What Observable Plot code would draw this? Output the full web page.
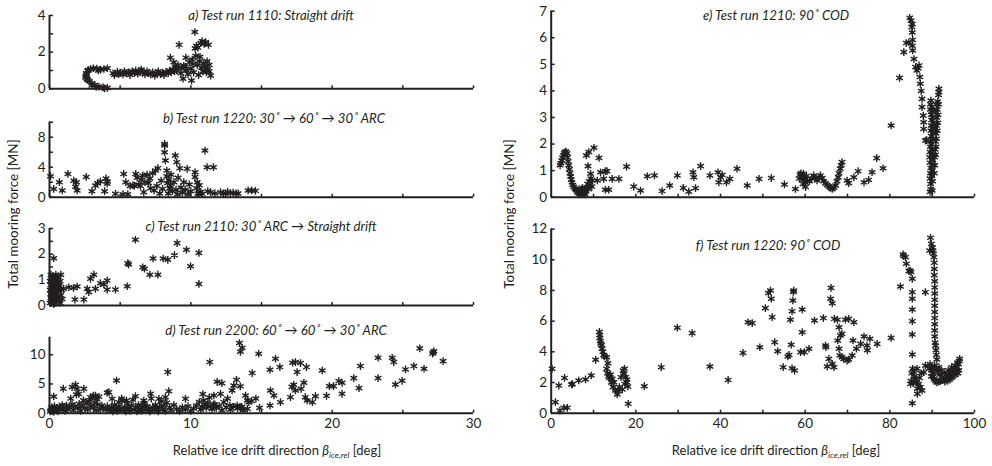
<!DOCTYPE html>
<html><head><meta charset="utf-8">
<script src="https://cdn.jsdelivr.net/npm/d3@7"></script>
<script src="https://cdn.jsdelivr.net/npm/@observablehq/plot@0.6"></script>
<style>
body{margin:0;background:#fff;}
#fig{position:relative;width:992px;height:466px;overflow:hidden;font-family:Lato,"Open Sans",sans-serif;color:#231f20;}
.panel{position:absolute;}
.title{position:absolute;font-style:italic;font-size:13.2px;white-space:nowrap;transform:translate(-50%,-50%);}
.xlabel{position:absolute;font-size:13px;white-space:nowrap;transform:translate(-50%,-50%);}
.xlabel sub{font-size:8.5px;font-style:italic;vertical-align:-3px;}
.ylabel{position:absolute;font-size:13.5px;white-space:nowrap;transform:translate(-50%,-50%) rotate(-90deg);}
</style></head>
<body><div id="fig"></div>
<script>
// ---------- data: [beta_ice,rel (deg), total mooring force (MN)] ----------
const panelA = [
[4.1,0.05],[3.8,0.08],[3.5,0.12],[3.2,0.2],[3.0,0.3],[2.8,0.42],[2.65,0.55],[2.6,0.7],[2.6,0.85],[2.7,0.98],[2.9,1.08],[3.1,1.12],[3.35,1.1],[3.6,1.05],[3.85,1.08],[4.1,1.12],[2.55,0.62],[2.7,0.48],[3.0,0.18],[3.3,0.1],[3.9,0.02],[2.75,1.02],[3.45,1.0],[2.62,0.78],
[4.5,0.85],[4.6,0.75],[4.8,0.92],[4.9,0.8],[5.0,0.88],[5.2,0.78],[5.3,0.95],[5.45,0.85],[5.6,0.9],[5.7,0.75],[5.85,0.95],[6.0,0.85],[6.1,1.0],[6.25,0.82],[6.4,0.95],[6.5,1.05],[6.6,0.88],[6.75,0.8],[6.9,0.95],[7.0,0.85],[7.15,0.78],[7.3,0.9],[7.45,0.72],[7.6,0.85],[7.7,0.95],[7.85,0.8],[8.0,0.88],[8.1,0.75],[8.25,0.92],[8.4,0.85],[8.5,1.0],[8.6,0.9],[8.75,1.05],[8.85,0.95],[8.95,1.15],
[8.55,1.7],[8.8,1.45],[8.9,1.2],[9.0,1.0],[9.1,1.3],[9.17,2.4],[9.3,0.85],[9.35,1.1],[9.45,0.55],[9.5,1.25],[9.65,1.7],[9.7,1.0],[9.8,0.8],[9.9,1.45],[10.0,1.1],[10.05,0.45],[10.1,1.6],[10.2,0.9],[10.28,3.1],[10.3,2.2],[10.4,2.35],[10.45,1.3],[10.5,2.25],[10.55,0.75],[10.6,1.5],[10.7,2.5],[10.75,1.15],[10.8,2.6],[10.85,0.95],[10.9,1.4],[10.95,2.45],[11.0,1.2],[11.05,2.55],[11.1,0.9],[11.15,1.5],[11.2,1.05],[11.25,2.4],[11.3,1.3],[11.4,0.72],[11.3,0.95],[10.35,1.8],[10.65,1.75],[9.6,1.2],[10.15,1.35]
];
const panelB = [
[0.07,2.8],[0.3,1.1],[0.7,2.0],[0.9,0.9],[1.3,3.1],[1.72,2.2],[1.9,2.0],[1.96,0.9],[1.85,1.4],[2.6,2.7],[3.0,0.8],[3.25,1.55],[3.4,1.87],[3.6,2.1],[3.9,0.8],[4.0,2.5],[4.08,1.8],[4.1,2.1],[4.67,0.45],[5.2,0.4],[5.25,3.1],[5.4,2.0],[5.54,0.4],[5.7,1.5],[5.9,1.6],[6.0,1.5],[6.1,3.1],[6.2,2.6],[6.3,1.7],[6.43,1.5],[6.5,2.3],[6.6,2.9],[6.67,0.67],[6.75,2.0],[6.9,3.0],[7.0,1.9],[7.1,2.5],[7.15,1.2],[7.3,3.2],[7.4,0.9],[7.5,3.55],[7.6,1.5],[7.67,3.87],[7.8,0.5],[7.9,2.2],[8.0,1.1],[8.14,7.1],[8.15,6.9],[8.14,6.0],[8.2,4.9],[8.3,3.55],[8.3,2.8],[8.35,1.9],[8.4,0.5],[8.45,2.3],[8.5,1.2],[8.56,1.55],[8.6,3.0],[8.7,0.8],[8.8,2.0],[8.9,5.56],[8.95,1.0],[9.0,4.67],[9.05,0.4],[9.1,2.6],[9.22,3.87],[9.3,1.3],[9.4,0.6],[9.5,2.0],[9.6,1.0],[9.74,3.78],[9.8,0.4],[9.9,1.7],[10.0,0.8],[10.3,3.33],[10.3,2.7],[10.4,1.2],[10.45,2.0],[10.5,0.5],[10.57,0.44],[10.6,1.6],[10.7,0.7],[10.8,0.45],[11.0,6.22],[11.15,4.0],[11.2,0.8],[11.4,0.67],[11.6,4.0],[11.7,0.5],[12.1,0.67],[12.3,0.5],[12.45,0.53],[12.6,0.7],[12.8,0.55],[13.0,0.6],[13.2,0.5],[13.35,0.5],[14.05,0.9],[14.3,0.9],[14.57,0.85]
];
const panelC = [
[0.05,0.1],[0.1,0.3],[0.15,0.5],[0.2,0.7],[0.25,0.9],[0.3,1.1],[0.1,1.2],[0.05,0.6],[0.35,0.2],[0.4,0.45],[0.45,0.65],[0.5,0.85],[0.55,1.0],[0.6,0.3],[0.65,0.55],[0.7,0.75],[0.75,0.1],[0.8,0.4],[0.2,0.15],[0.3,0.35],[0.4,0.95],[0.5,0.2],[0.15,1.0],[0.25,0.5],[0.35,0.8],[0.45,0.3],[0.55,0.6],[0.65,0.9],[0.1,0.8],[0.2,0.4],[0.3,0.6],[0.4,0.1],[0.5,0.5],[0.6,0.7],[0.7,0.2],[0.05,0.95],[0.15,0.25],[0.25,1.15],[0.35,0.55],[0.45,1.2],[0.85,0.6],[0.9,0.25],[0.3,0.05],[0.6,1.1],[0.75,0.95],[0.2,0.95],[0.1,0.45],
[0.3,1.84],[0.8,1.2],[1.0,0.65],[1.37,0.71],[1.7,0.68],[1.96,0.74],[1.8,0.23],[2.43,0.23],[2.67,0.65],[2.78,0.52],[2.9,1.04],[3.14,1.2],[3.25,0.65],[3.6,0.87],[3.85,0.82],[4.08,0.97],[4.08,0.62],[4.67,0.62],[5.5,0.75],[5.54,1.65],[5.6,1.6],[6.08,2.56],[6.6,1.49],[6.72,1.43],[7.1,1.2],[7.33,1.83],[7.67,1.2],[8.04,1.83],[8.37,1.78],[8.84,1.96],[9.03,2.43],[9.69,2.17],[9.98,1.53],[10.57,2.05],[10.57,0.84]
];
const panelD = [
[0.05,0.3],[0.1,0.6],[0.15,1.0],[0.2,0.4],[0.25,0.8],[0.3,0.2],[0.35,1.2],[0.4,0.5],[0.5,0.9],[0.6,0.3],[0.7,1.1],[0.8,0.6],[0.9,1.4],[1.0,0.9],[1.1,0.4],[1.2,1.3],[1.3,0.7],[1.4,1.0],[1.5,2.5],[1.6,1.5],[1.7,0.5],[1.8,1.2],[1.9,3.2],[2.0,0.9],[2.1,1.6],[2.2,0.4],[2.3,1.3],[2.4,2.2],[2.5,0.8],[2.6,1.8],[2.7,0.6],[2.8,2.0],[2.9,1.2],[3.0,2.6],[3.1,0.9],[3.2,1.8],[3.25,3.0],[3.3,0.5],[3.35,2.4],[3.4,1.5],[3.5,2.8],[3.6,0.7],[3.7,1.3],[3.8,0.9],[4.0,0.6],[4.1,1.2],[4.2,3.6],[4.3,0.5],[4.4,1.0],[4.5,0.3],[4.6,1.4],[4.7,0.8],[4.8,0.4],[4.9,1.2],[5.0,0.7],[5.1,2.5],[5.2,0.5],[5.3,1.0],[5.4,0.3],[5.5,1.6],[5.6,0.8],[5.7,0.4],[5.8,1.3],[5.9,2.3],[6.0,0.6],[6.1,1.0],[6.2,0.3],[6.3,1.4],[6.4,0.7],[6.5,0.4],[6.6,1.1],[6.7,1.7],[6.8,0.5],[6.9,1.2],[7.0,0.8],[7.1,0.3],[7.2,2.5],[7.3,1.0],[7.4,0.5],[7.5,1.4],[7.6,0.8],[7.7,0.3],[7.8,1.1],[7.9,2.0],[8.0,0.6],[8.1,1.3],[8.2,0.4],[8.3,1.8],[8.5,1.0],[8.6,0.5],[8.8,1.4],[9.0,0.7],[9.2,0.4],[9.4,1.0],[9.6,0.6],[9.8,1.2],[10.0,0.4],[10.2,0.8],[10.4,1.3],[10.6,1.9],[10.7,0.6],[10.8,1.1],[10.9,2.2],[11.0,1.5],[11.1,0.9],[11.2,1.8],[11.3,2.7],[11.4,1.2],[11.5,0.7],[11.6,1.5],[11.8,0.9],[12.0,1.2],[12.2,0.5],[12.5,1.0],[12.8,0.6],[13.0,1.1],[13.3,0.8],[13.5,1.0],[13.7,0.5],
[0.3,2.86],[0.97,4.2],[1.6,4.46],[1.84,4.86],[1.96,4.17],[2.43,4.17],[2.07,3.3],[2.9,2.74],[3.1,3.0],[4.08,3.49],[4.43,2.46],[4.9,1.89],[4.74,5.6],[5.14,2.17],[5.45,2.17],[6.08,2.91],[6.67,2.17],[7.15,3.31],[7.74,2.46],[8.2,2.74],[8.37,7.03],[8.44,3.77],[9.62,2.46],[10.85,3.26],[11.34,8.74],[11.63,3.03],[11.86,5.37],[12.2,5.14],[12.33,1.89],[12.76,1.31],[12.92,3.89],[13.04,4.74],[13.23,5.71],[13.28,1.31],[13.44,12.0],[13.51,10.5],[13.63,11.2],[13.5,4.6],[13.87,3.03],[14.0,2.17],[14.1,1.89],[14.0,0.74],[14.34,6.86],[14.8,10.17],[14.86,0.91],[15.6,1.31],[15.63,3.89],[15.6,7.43],[15.99,9.31],[16.3,7.89],[15.88,3.03],[16.34,1.89],[17.05,2.74],[17.2,8.63],[17.4,8.74],[17.52,7.03],[17.76,8.57],[18.18,7.89],[17.28,4.86],[17.15,4.5],[17.4,3.89],[18.0,5.2],[17.8,4.17],[18.1,2.74],[18.23,2.17],[18.6,1.89],[18.82,2.91],[19.3,7.31],[19.6,2.97],[19.8,4.63],[20.1,4.63],[20.47,5.49],[20.7,5.2],[20.7,3.31],[21.53,6.0],[21.9,4.29],[22.0,8.06],[23.25,9.49],[23.25,6.0],[24.25,9.49],[24.36,8.74],[24.48,4.91],[24.95,5.54],[25.19,7.49],[25.78,8.06],[26.2,11.09],[26.5,7.6],[27.15,10.4],[27.2,10.6],[27.1,10.2],[27.85,8.91],[13.6,1.1],[14.3,2.1],[14.6,2.5],[12.6,2.5],[12.1,3.3],[11.7,1.5]
];
const panelE = [
[2.1,1.2],[2.3,1.28],[2.5,1.38],[2.7,1.48],[2.9,1.58],[3.1,1.65],[3.3,1.7],[3.5,1.72],[3.7,1.65],[3.85,1.5],[4.0,1.35],[4.15,1.2],[4.3,1.05],[4.45,0.9],[4.6,0.78],[4.75,0.66],[4.9,0.56],[5.1,0.46],[5.3,0.38],[5.6,0.32],[5.9,0.26],[6.2,0.2],[6.5,0.15],[6.8,0.12],[7.0,0.2],[7.2,0.3],[7.4,0.35],[7.6,0.28],[7.8,0.15],[8.0,0.1],[6.6,0.3],[7.1,0.1],[8.2,0.22],[8.4,0.35],[8.6,0.5],[8.8,0.3],[9.0,0.6],[9.2,0.45],[9.4,0.7],[9.6,0.4],
[8.3,1.57],[8.9,1.7],[10.1,1.86],[8.7,1.17],[9.3,0.88],[9.7,0.63],[10.9,0.63],[11.3,1.48],[11.65,0.94],[12.8,0.98],[13.2,0.98],[12.4,0.69],[12.8,0.28],[13.6,0.28],[14.4,0.69],[16.0,0.69],[17.8,1.15],[19.5,0.4],[21.1,0.25],[22.7,0.79],[24.4,0.82],[26.2,0.23],[28.0,0.44],[29.8,0.82],[31.2,0.35],[32.5,0.21],[33.5,0.94],[33.7,0.75],[34.1,0.34],[35.3,1.17],[37.5,0.82],[39.4,0.94],[39.6,0.56],[40.0,0.75],[40.4,0.84],[41.4,0.56],[42.2,0.69],[43.9,1.07],[46.3,0.44],[49.1,0.69],[52.0,0.72],[55.1,0.48],[57.7,0.31],
[58.6,0.7],[58.8,0.85],[59.0,0.9],[59.2,0.78],[59.4,0.65],[59.6,0.88],[59.8,0.72],[60.0,0.55],[60.1,0.38],[59.5,0.5],[60.3,0.8],[60.5,0.62],[61.0,0.6],[61.5,0.7],[62.0,0.82],[62.5,0.72],[62.8,0.63],[63.3,0.75],[63.6,0.82],[64.0,0.72],[64.4,0.6],[64.8,0.52],[65.2,0.46],[65.6,0.4],[66.0,0.35],[66.4,0.31],[66.8,0.36],[67.2,0.44],[67.5,0.6],[67.8,0.75],[68.0,0.9],[68.3,1.07],[68.5,1.2],[68.7,1.32],[69.9,0.63],[70.3,0.53],[71.5,0.75],[72.5,0.98],[73.9,0.56],[75.0,0.65],[75.8,0.94],[76.9,1.47],[78.4,1.09],[80.3,2.7],[82.3,4.49],[83.3,5.46],[83.9,5.8],[84.5,5.83],
[84.7,6.75],[85.0,6.65],[85.3,6.52],[85.2,6.4],[85.3,6.2],[85.4,5.92],[85.3,5.7],[85.4,5.52],[85.7,5.2],[86.1,4.9],[86.4,4.77],[86.9,4.96],[86.7,4.85],[87.1,4.52],[87.2,4.27],[87.4,4.0],[87.6,3.7],[87.6,3.39],[87.9,3.07],[88.0,2.82],[88.0,2.57],[88.4,2.13],[88.7,2.15],
[89.5,0.2],[89.7,0.3],[89.6,0.5],[89.5,0.7],[89.6,0.9],[89.7,1.1],[89.5,1.3],[89.4,1.5],[89.5,1.7],[89.6,1.9],[89.7,2.1],[89.8,2.3],[89.7,2.5],[89.8,2.7],[89.9,2.9],[89.8,3.1],[89.6,3.3],[89.6,3.5],[89.7,3.64],[90.0,3.26],[90.1,3.0],[90.0,2.6],[90.1,2.2],[90.0,1.8],[90.1,1.4],[90.0,1.0],[90.1,0.6],[90.0,0.25],[89.9,1.6],[89.8,2.0],[89.9,0.8],[90.2,1.2],[90.2,2.4],[89.9,3.4],[90.3,1.6],[90.3,2.8],
[90.5,0.9],[90.6,1.2],[90.6,1.5],[90.7,1.8],[90.8,2.1],[90.9,2.4],[91.0,2.7],[91.1,3.0],[91.2,3.3],[91.3,3.6],[91.5,3.85],[91.6,4.08],[91.5,3.5],[91.4,3.1],[91.3,2.8],[91.2,2.5],[91.0,2.2],[90.9,1.9],[90.8,1.6],[90.6,2.6],[90.7,3.2],[91.6,3.95],[91.0,3.5]
];
const panelF = [
[0.2,2.89],[1.0,0.72],[1.8,1.8],[2.05,0.17],[3.0,0.35],[3.8,0.35],[3.15,2.3],[4.8,1.87],[5.0,1.9],[6.5,2.13],[8.1,2.2],[9.45,2.46],[10.5,3.48],
[11.4,5.3],[11.5,5.1],[11.5,4.9],[11.6,4.7],[11.7,4.55],[11.9,4.45],[12.0,4.2],[12.2,4.0],[12.4,3.8],[12.6,3.7],[13.1,3.65],[13.4,3.26],[13.1,2.89],[13.3,2.6],[13.6,2.39],[14.0,2.52],[14.4,2.24],[14.8,2.02],[14.6,1.7],[15.2,1.48],[15.6,1.22],[16.1,1.7],[16.5,2.35],[17.0,2.78],[17.3,2.9],[17.4,1.91],[17.8,2.02],[18.1,1.74],[17.6,2.35],[17.2,2.57],[17.9,2.2],[18.2,0.61],[16.8,1.55],[15.9,1.45],[14.2,2.0],[13.8,2.3],
[22.0,1.76],[26.0,3.0],[29.8,5.57],[33.3,5.22],[37.5,3.04],[41.8,2.17],[45.3,3.93],[46.5,5.93],[47.5,5.87],[49.3,4.3],[50.6,6.85],[51.3,7.83],[51.8,8.0],[52.0,7.46],[52.2,6.26],[52.8,4.63],[53.5,4.04],[54.8,3.0],[55.9,3.7],[56.2,3.8],[56.7,4.46],[56.5,6.09],[56.9,6.65],[57.1,7.35],[57.3,8.0],[57.2,7.9],[56.9,2.93],[57.5,2.78],[59.3,6.76],[59.3,5.28],[58.9,3.98],[59.8,3.98],[60.9,4.2],[62.2,6.04],[64.3,6.2],[64.8,4.41],[64.9,4.3],[65.6,3.54],[65.2,3.04],[66.0,7.46],[66.4,7.17],[66.1,8.17],[66.4,3.22],[66.8,3.0],[66.9,6.15],[67.6,6.09],[68.0,5.6],[67.7,4.74],[68.3,5.07],[68.7,5.17],[68.0,4.2],[68.2,3.76],[68.7,3.65],[69.1,3.54],[69.9,3.43],[70.3,3.5],[69.5,6.09],[70.3,6.15],[71.5,5.93],[71.3,4.74],[71.1,3.76],[72.1,4.2],[73.1,4.52],[73.9,5.0],[74.6,4.41],[74.7,4.1],[75.3,4.85],[77.0,4.52],[80.3,4.91],
[82.5,8.26],[83.1,10.35],[83.3,10.25],[83.7,10.17],[83.9,9.74],[84.5,9.26],[84.8,9.3],[85.0,9.2],[85.3,8.76],[85.3,7.89],[85.3,7.46],[85.3,6.76],[85.3,6.0],[85.3,5.13],[85.3,3.83],[85.3,0.65],[84.9,1.91],[85.0,2.1],[85.2,2.6],[85.4,2.9],[85.6,2.7],[85.8,2.4],[86.0,2.2],[86.2,2.0],[86.5,1.26],[86.5,1.6],[86.8,1.9],[87.2,1.7],[87.6,1.48],[87.0,2.3],[87.4,2.6],[88.0,2.67],[88.4,3.1],[88.4,7.89],[86.4,2.9],[85.5,1.95],
[89.6,11.43],[89.8,11.04],[89.4,10.6],[90.2,10.57],[90.4,10.17],[90.5,9.8],[90.5,9.4],[90.5,9.0],[90.6,8.6],[90.6,8.2],[90.6,7.8],[90.6,7.4],[90.6,7.0],[90.6,6.6],[90.6,6.2],[90.6,5.8],[90.6,5.4],[90.6,5.0],[90.7,4.6],[90.8,4.4],[90.9,4.1],[91.0,3.8],[91.1,3.5],[90.1,10.8],[90.3,10.4],
[89.5,3.2],[89.7,3.0],[89.9,2.8],[90.1,2.6],[90.3,2.4],[90.5,2.2],[90.8,2.1],[91.1,2.0],[91.5,2.05],[91.9,2.1],[92.3,2.15],[92.7,2.2],[93.1,2.3],[93.5,2.4],[93.9,2.5],[94.3,2.6],[94.7,2.7],[95.1,2.8],[95.5,2.9],[95.9,3.0],[96.2,3.2],[96.4,3.4],[96.5,3.55],[96.3,2.8],[96.1,2.6],[95.7,2.6],[95.3,2.5],[94.9,2.4],[94.5,2.3],[94.1,2.2],[93.6,2.1],[93.0,2.05],[92.4,2.3],[91.8,2.5],[91.3,2.7],[90.9,2.9],[90.6,3.1],[91.6,3.0],[92.2,2.8],[92.9,2.6],[93.8,2.8],[94.6,3.0],[95.4,3.1],[96.0,3.3],[89.3,2.9],[89.8,2.4]
];

// ---------- ticks & labels ----------
const leftXTicks = [0,5,10,15,20,25,30];
const leftXLabels = [0,10,20,30];
const rightXTicks = [0,10,20,30,40,50,60,70,80,90,100];
const rightXLabels = [0,20,40,60,80,100];
const yTicksA = [0,1,2,3,4], yLabelsA = [0,2,4];
const yTicksB = [0,2,4,6,8,10], yLabelsB = [0,4,8];
const yTicksC = [0,0.5,1,1.5,2,2.5,3], yLabelsC = [0,1,2,3];
const yTicksD = [0,5,10], yLabelsD = [0,5,10];
const yTicksE = [0,1,2,3,4,5,6,7], yLabelsE = [0,1,2,3,4,5,6,7];
const yTicksF = [0,2,4,6,8,10,12], yLabelsF = [0,2,4,6,8,10,12];
const titles = [
  "a) Test run 1110: Straight drift",
  "b) Test run 1220: 30\u02da \u2192 60\u02da \u2192 30\u02da ARC",
  "c) Test run 2110: 30\u02da ARC \u2192 Straight drift",
  "d) Test run 2200: 60\u02da \u2192 60\u02da \u2192 30\u02da ARC",
  "e) Test run 1210: 90\u02da COD",
  "f) Test run 1220: 90\u02da COD"
];
const yTitle = "Total mooring force [MN]";

const INK = "#231f20";
const fig = document.getElementById("fig");

function panel(o) {
  const chart = Plot.plot({
    width: o.w, height: o.h,
    marginLeft: o.mL, marginRight: o.mR, marginTop: o.mT, marginBottom: o.mB,
    style: {fontFamily: "Lato, 'Open Sans', sans-serif", fontSize: "13.5px", color: INK, background: "transparent", overflow: "visible"},
    x: {domain: o.xd},
    y: {domain: o.yd},
    marks: [
      Plot.dot(o.data, {x: d => d[0], y: d => d[1], symbol: "asterisk", r: 3.6, stroke: INK, strokeWidth: 1.4}),
      Plot.ruleX([o.xd[0]], {stroke: INK, strokeWidth: 2}),
      Plot.ruleY([o.yd[0]], {stroke: INK, strokeWidth: 2}),
      Plot.axisX({ticks: o.xt, tickSize: -3, tickPadding: 8, label: null, stroke: INK, strokeWidth: 1.5,
        tickFormat: d => (o.xl && o.xl.includes(d)) ? String(d) : ""}),
      Plot.axisY({ticks: o.yt, tickSize: -4, tickPadding: 8, label: null, stroke: INK, strokeWidth: 1.5,
        tickFormat: d => o.yl.includes(d) ? String(d) : ""})
    ]
  });
  chart.classList.add("panel");
  chart.style.left = o.left + "px";
  chart.style.top = o.top + "px";
  fig.appendChild(chart);
}

// left column: x 0 -> 49px, 30 -> 473px
panel({data: panelA, left: 0, top: 0,   w: 490, h: 100, mL: 49, mR: 17, mT: 15,   mB: 11.7, xd: [0,30], yd: [0,4],  xt: leftXTicks, xl: null, yt: yTicksA, yl: yLabelsA});
panel({data: panelB, left: 0, top: 100, w: 490, h: 110, mL: 49, mR: 17, mT: 21.7, mB: 13.3, xd: [0,30], yd: [0,10], xt: leftXTicks, xl: null, yt: yTicksB, yl: yLabelsB});
panel({data: panelC, left: 0, top: 210, w: 490, h: 105, mL: 49, mR: 17, mT: 18,   mB: 10,   xd: [0,30], yd: [0,3],  xt: leftXTicks, xl: null, yt: yTicksC, yl: yLabelsC});
panel({data: panelD, left: 0, top: 320, w: 490, h: 146, mL: 49, mR: 17, mT: 16.7, mB: 53.3, xd: [0,30], yd: [0,13], xt: leftXTicks, xl: leftXLabels, yt: yTicksD, yl: yLabelsD});
// right column: x 0 -> 550.7px, 100 -> 974px
panel({data: panelE, left: 500, top: 0,   w: 492, h: 215, mL: 50.7, mR: 18, mT: 10.7, mB: 18.3, xd: [0,100], yd: [0,7],  xt: rightXTicks, xl: null, yt: yTicksE, yl: yLabelsE});
panel({data: panelF, left: 500, top: 215, w: 492, h: 251, mL: 50.7, mR: 18, mT: 13.6, mB: 53.3, xd: [0,100], yd: [0,12], xt: rightXTicks, xl: rightXLabels, yt: yTicksF, yl: yLabelsF});

// titles (centre positions)
const titlePos = [[271,15],[274,118],[261,226],[276,330],[776,15],[768,245]];
titles.forEach((t, i) => {
  const d = document.createElement("div");
  d.className = "title";
  d.textContent = t;
  d.style.left = titlePos[i][0] + "px";
  d.style.top = titlePos[i][1] + "px";
  fig.appendChild(d);
});
// axis titles
[[277,451],[776,451]].forEach(([x,y]) => {
  const d = document.createElement("div");
  d.className = "xlabel";
  d.innerHTML = "Relative ice drift direction <i>\u03b2</i><sub>ice,rel</sub> [deg]";
  d.style.left = x + "px"; d.style.top = y + "px";
  fig.appendChild(d);
});
[[13,214],[509,214]].forEach(([x,y]) => {
  const d = document.createElement("div");
  d.className = "ylabel";
  d.textContent = yTitle;
  d.style.left = x + "px"; d.style.top = y + "px";
  fig.appendChild(d);
});
</script>
</body></html>
